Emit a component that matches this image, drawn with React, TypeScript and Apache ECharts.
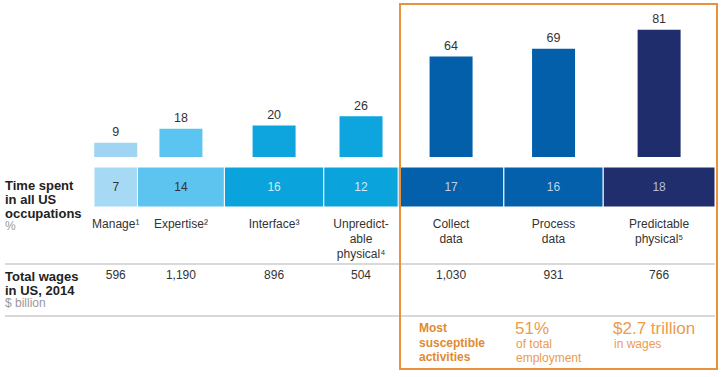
import React, { useEffect, useRef } from "react";
import * as echarts from "echarts";

const categories = ["Manage¹", "Expertise²", "Interface³", "Unpredict-\nable\nphysical⁴", "Collect\ndata", "Process\ndata", "Predictable\nphysical⁵"];
const automatable = [9, 18, 20, 26, 64, 69, 81];
const timeSpent = [7, 14, 16, 12, 17, 16, 18];
const wages = ["596", "1,190", "896", "504", "1,030", "931", "766"];
const barColors = ["#9fd5f3", "#5cc4f1", "#0ea5de", "#0ea5de", "#035faa", "#035faa", "#1f2d6c"];
const bandColors = ["#a6d9f4", "#5dc3ef", "#0ba3dc", "#0ba3dc", "#0560ab", "#0560ab", "#202e6d"];
const bandTextColors = ["#333333", "#333333", "#cfe9f7", "#cfe9f7", "#bcd0ea", "#bcd0ea", "#b4bfdc"];

const FONT = "'Liberation Sans', Arial, sans-serif";
const ORANGE = "#e9923c";

export default function App() {
  const ref = useRef<HTMLDivElement>(null);
  useEffect(() => {
    if (!ref.current) return;
    const chart = echarts.init(ref.current, undefined, { renderer: "svg" });
    const starts: number[] = [];
    let acc = 0;
    timeSpent.forEach((t) => { starts.push(acc); acc += t; });
    const mids = timeSpent.map((t, i) => starts[i] + t / 2);

    const bandData = timeSpent.map((t, i) => [starts[i], starts[i] + t, t, i]);

    chart.setOption({
      animation: false,
      textStyle: { fontFamily: FONT },
      grid: [
        { left: 94, right: 7, top: 0, height: 157 },
        { left: 94, right: 7, top: 167, height: 40 },
      ],
      xAxis: [
        { type: "value", gridIndex: 0, min: 0, max: 100, show: false },
        { type: "value", gridIndex: 1, min: 0, max: 100, show: false },
      ],
      yAxis: [
        { type: "value", gridIndex: 0, min: 0, max: 100, show: false },
        { type: "value", gridIndex: 1, min: 0, max: 1, show: false },
      ],
      series: [
        {
          type: "bar",
          xAxisIndex: 0,
          yAxisIndex: 0,
          barWidth: 43,
          data: automatable.map((v, i) => ({ value: [mids[i], v], itemStyle: { color: barColors[i] } })),
          label: {
            show: true,
            position: "top",
            distance: 4,
            color: "#333",
            fontSize: 12.5,
            fontFamily: FONT,
            formatter: (p: any) => String(p.value[1]),
          },
        },
        {
          type: "custom",
          xAxisIndex: 1,
          yAxisIndex: 1,
          data: bandData,
          renderItem: (params: any, api: any) => {
            const s = api.value(0);
            const e = api.value(1);
            const i = api.value(3);
            const p0 = api.coord([s, 1]);
            const p1 = api.coord([e, 0]);
            const cx = (p0[0] + p1[0]) / 2;
            return {
              type: "group",
              children: [
                {
                  type: "rect",
                  shape: { x: p0[0], y: p0[1], width: p1[0] - p0[0], height: p1[1] - p0[1] },
                  style: { fill: bandColors[i], stroke: "#ffffff", lineWidth: 1 },
                },
                {
                  type: "text",
                  x: cx,
                  y: (p0[1] + p1[1]) / 2,
                  style: {
                    text: String(api.value(2)),
                    fill: bandTextColors[i],
                    fontSize: 12,
                    fontFamily: FONT,
                    align: "center",
                    verticalAlign: "middle",
                  },
                },
                {
                  type: "text",
                  x: cx,
                  y: p1[1] + 9,
                  style: {
                    text: categories[i],
                    fill: "#333",
                    fontSize: 12,
                    lineHeight: 15,
                    fontFamily: FONT,
                    align: "center",
                    verticalAlign: "top",
                  },
                },
                {
                  type: "text",
                  x: cx,
                  y: p1[1] + 62,
                  style: {
                    text: wages[i],
                    fill: "#333",
                    fontSize: 12,
                    fontFamily: FONT,
                    align: "center",
                    verticalAlign: "top",
                  },
                },
              ],
            };
          },
        },
      ],
      graphic: [
        {
          type: "text",
          left: 5,
          top: 178,
          style: { text: "Time spent\nin all US\noccupations", fill: "#222", font: `bold 13px ${FONT}`, lineHeight: 14 },
        },
        { type: "text", left: 5, top: 220, style: { text: "%", fill: "#999", font: `12px ${FONT}` } },
        { type: "line", shape: { x1: 5, y1: 264, x2: 715, y2: 264 }, style: { stroke: "#cccccc", lineWidth: 1.5 } },
        {
          type: "text",
          left: 5,
          top: 269,
          style: { text: "Total wages\nin US, 2014", fill: "#222", font: `bold 13px ${FONT}`, lineHeight: 14 },
        },
        { type: "text", left: 5, top: 297, style: { text: "$ billion", fill: "#999", font: `12px ${FONT}` } },
        { type: "line", shape: { x1: 5, y1: 316, x2: 715, y2: 316 }, style: { stroke: "#cccccc", lineWidth: 1.5 } },
        {
          type: "rect",
          shape: { x: 400, y: 4, width: 317, height: 365 },
          style: { fill: "none", stroke: ORANGE, lineWidth: 2 },
          z: 100,
        },
        {
          type: "text",
          left: 419,
          top: 321,
          style: { text: "Most\nsusceptible\nactivities", fill: "#e08a33", font: `bold 12px ${FONT}`, lineHeight: 14.5 },
        },
        { type: "text", left: 515, top: 320, style: { text: "51%", fill: "#eb9c4e", font: `17px ${FONT}`, lineHeight: 17 } },
        {
          type: "text",
          left: 516,
          top: 337,
          style: { text: "of total\nemployment", fill: "#eb9c4e", font: `12px ${FONT}`, lineHeight: 14 },
        },
        { type: "text", left: 613, top: 320, style: { text: "$2.7 trillion", fill: "#eb9c4e", font: `17px ${FONT}`, lineHeight: 17 } },
        { type: "text", left: 614, top: 337, style: { text: "in wages", fill: "#eb9c4e", font: `12px ${FONT}`, lineHeight: 14 } },
      ],
    });
    return () => chart.dispose();
  }, []);
  return <div ref={ref} style={{ width: 722, height: 377, position: "absolute", left: 0, top: 0 }} />;
}
